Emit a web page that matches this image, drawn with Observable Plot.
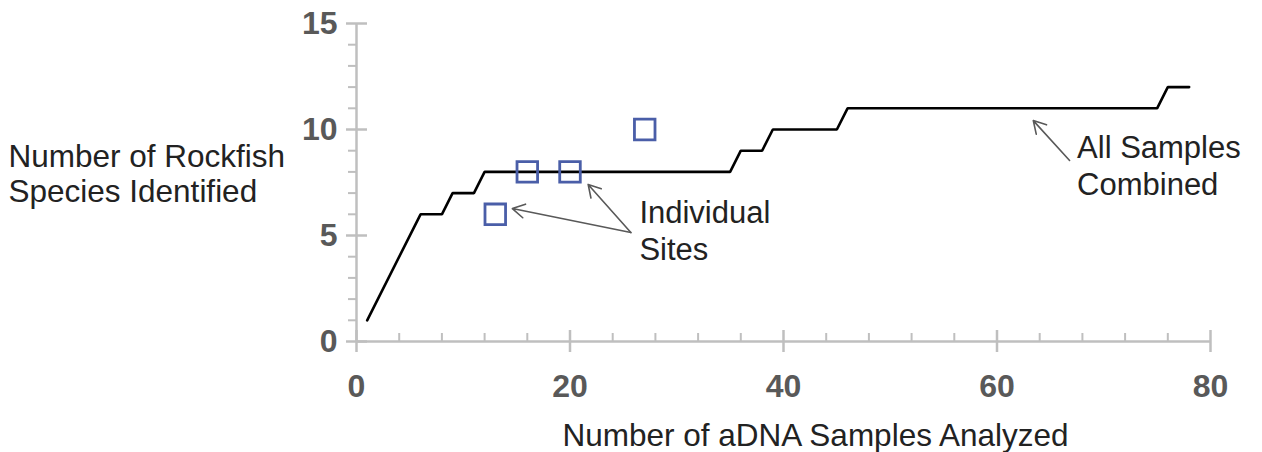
<!DOCTYPE html>
<html><head><meta charset="utf-8">
<script src="https://cdn.jsdelivr.net/npm/d3@7"></script>
<script src="https://cdn.jsdelivr.net/npm/@observablehq/plot@0.6"></script>
<style>body{margin:0;background:#fff}</style>
</head><body><div id="chart"></div>
<script>
// All samples combined (cumulative species count)
const combinedX = [1, 6, 8, 9, 11, 12, 35, 36, 38, 39, 45, 46, 75, 76, 78];
const combinedY = [1, 6, 6, 7, 7, 8, 8, 9, 9, 10, 10, 11, 11, 12, 12];
// Individual sites
const siteX = [13, 16, 20, 27];
const siteY = [6, 8, 8, 10];
// Ticks
const xMajorTicks = [0, 20, 40, 60, 80];
const xMinorTicks = [4, 8, 12, 16, 24, 28, 32, 36, 44, 48, 52, 56, 64, 68, 72, 76];
const yMajorTicks = [0, 5, 10, 15];
const yMinorTicks = [1, 2, 3, 4, 6, 7, 8, 9, 11, 12, 13, 14];
// Annotations (data units)
const arrowX1 = [25.7, 25.7, 66.8];
const arrowY1 = [5.14, 5.14, 8.54];
const arrowX2 = [14.6, 21.7, 63.4];
const arrowY2 = [6.27, 7.41, 10.42];
const noteText = ["Individual\nSites", "All Samples\nCombined"];
const noteX = [26.5, 67.5];
const noteY = [6.85, 9.9];
const yTitle = "Number of Rockfish\nSpecies Identified";
const xTitle = "Number of aDNA Samples Analyzed";

const axisGray = "#bfbfbf";
const labelGray = "#595959";
const font = "'Liberation Sans', Arial, Helvetica, sans-serif";

const chart = Plot.plot({
  width: 1262,
  height: 452,
  marginLeft: 356,
  marginRight: 52,
  marginTop: 23,
  marginBottom: 111,
  style: {fontFamily: font, background: "#fff", overflow: "visible"},
  x: {domain: [0, 80], label: null},
  y: {domain: [0, 15], label: null},
  marks: [
    // axis lines
    Plot.ruleY([0], {stroke: axisGray, strokeWidth: 2.5}),
    Plot.ruleX([0], {stroke: axisGray, strokeWidth: 2.5}),
    // y ticks
    Plot.axisY(yMinorTicks, {anchor: "left", tickSize: 8, stroke: axisGray, strokeWidth: 2, fill: "none", label: null}),
    Plot.axisY(yMajorTicks, {anchor: "left", tickSize: 21, dx: 11, tickPadding: 9, stroke: axisGray, strokeWidth: 2.5,
      fill: labelGray, fontSize: 32, fontWeight: "bold", tickFormat: "d", label: null}),
    // x ticks
    Plot.axisX(xMinorTicks, {anchor: "bottom", tickSize: 8, dy: -8, stroke: axisGray, strokeWidth: 2, fill: "none", label: null}),
    Plot.axisX(xMajorTicks, {anchor: "bottom", tickSize: 22, dy: -11, tickPadding: 22, stroke: axisGray, strokeWidth: 2.5,
      fill: labelGray, fontSize: 32, fontWeight: "bold", tickFormat: "d", label: null}),
    // combined line
    Plot.line(combinedX, {x: combinedX, y: combinedY, stroke: "#000", strokeWidth: 2.6, strokeLinejoin: "miter"}),
    // individual sites
    Plot.dot(siteX, {x: siteX, y: siteY, symbol: "square", r: 11.6, stroke: "#4a5ea8", strokeWidth: 2.8, fill: "none"}),
    // annotation arrows
    Plot.arrow(arrowX1, {x1: arrowX1, y1: arrowY1, x2: arrowX2, y2: arrowY2, stroke: "#595959", strokeWidth: 1.6, headLength: 13}),
    // annotation text
    Plot.text(noteText, {x: noteX, y: noteY, text: d => d, textAnchor: "start", lineAnchor: "top",
      fontSize: 31, lineHeight: 1.2, fill: "#222"}),
    // axis titles
    Plot.text([yTitle], {frameAnchor: "top-left", dx: -348, dy: 119, textAnchor: "start", lineAnchor: "top",
      fontSize: 31.5, lineHeight: 1.1, fill: "#222"}),
    Plot.text([xTitle], {frameAnchor: "bottom-left", dx: 206, dy: 82, textAnchor: "start", lineAnchor: "top",
      fontSize: 31.5, fill: "#222"})
  ]
});
document.getElementById("chart").appendChild(chart);
</script>
</body></html>
